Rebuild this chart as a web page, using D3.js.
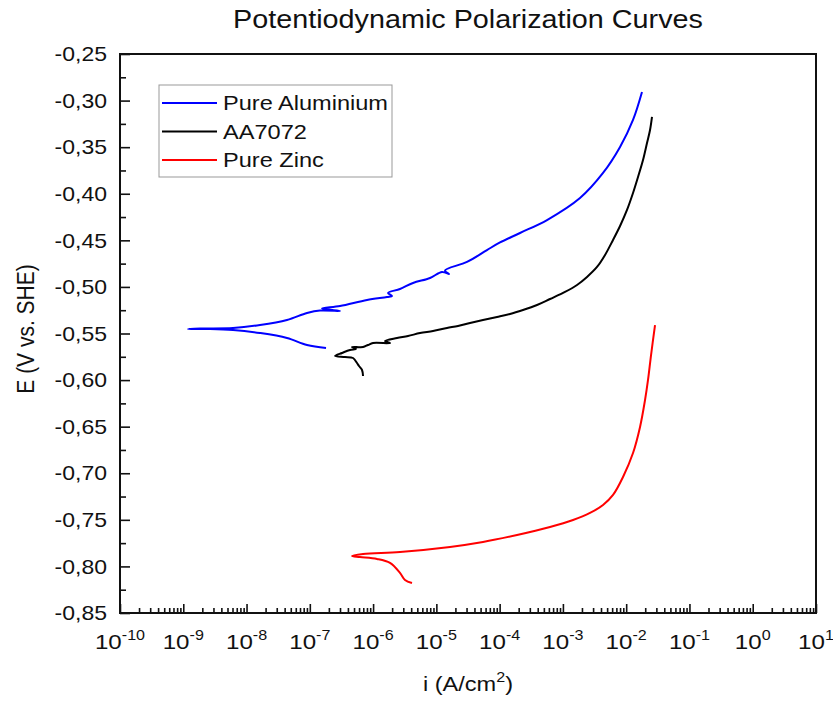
<!DOCTYPE html>
<html>
<head>
<meta charset="utf-8">
<script src="https://cdn.jsdelivr.net/npm/d3@7"></script>
<style>
  body { margin: 0; background: #fff; }
  text { font-family: "Liberation Sans", Arial, sans-serif; fill: #111; }
</style>
</head>
<body>
<script>
// values: log10(i) in A/cm2 and E in V vs. SHE
var seriesNames = ["Pure Aluminium", "AA7072", "Pure Zinc"];
var seriesColors = ["#0000ff", "#000000", "#ff0000"];

var alLogI = [-6.744, -7.044, -7.361, -7.787, -8.214, -8.578, -8.925, -8.736, -8.214, -7.787, -7.361, -7.044,
  -6.839, -6.523, -6.807, -6.523, -6.096, -5.78, -5.701, -5.764, -5.575, -5.369, -5.1, -4.911, -4.8, -4.863,
  -4.516, -4.2, -3.994, -3.678, -3.251, -2.73, -2.366, -2.097, -1.892, -1.75];
var alE = [-0.5656, -0.5623, -0.5548, -0.5495, -0.5462, -0.5452, -0.5452, -0.5446, -0.5441, -0.5409, -0.5355, -0.528,
  -0.5253, -0.5258, -0.5232, -0.5205, -0.514, -0.5108, -0.5097, -0.5065, -0.5022, -0.4958, -0.4904, -0.484, -0.4861, -0.4824,
  -0.4732, -0.4604, -0.4523, -0.4421, -0.4282, -0.4046, -0.3777, -0.3498, -0.3208, -0.2908];

var aaLogI = [-6.159, -6.175, -6.223, -6.254, -6.317, -6.444, -6.602, -6.491, -6.365, -6.27, -6.333, -6.159, -6.08,
  -6.001, -5.733, -5.812, -5.622, -5.448, -5.258, -5.053, -4.832, -4.658, -4.468, -4.263, -4.041, -3.836, -3.631,
  -3.409, -3.204, -2.967, -2.777, -2.619, -2.461, -2.334, -2.208, -2.097, -1.987, -1.892, -1.813, -1.734, -1.671,
  -1.623, -1.592];
var aaE = [-0.5956, -0.5892, -0.5849, -0.5817, -0.5763, -0.5752, -0.5741, -0.5709, -0.5677, -0.5666, -0.5645, -0.5645, -0.5623,
  -0.5602, -0.5602, -0.558, -0.5548, -0.5527, -0.5495, -0.5473, -0.5441, -0.5419, -0.5387, -0.5355, -0.5323, -0.5291, -0.5248,
  -0.5194, -0.513, -0.5054, -0.4979, -0.4893, -0.4786, -0.4657, -0.4496, -0.4346, -0.4174, -0.3992, -0.382, -0.3638, -0.3455,
  -0.3316, -0.3176];

var znLogI = [-5.385, -5.496, -5.575, -5.733, -5.938, -6.207, -6.333, -6.159, -5.575, -4.784, -4.263, -3.725, -3.204,
  -2.84, -2.572, -2.366, -2.208, -2.05, -1.892, -1.781, -1.702, -1.655, -1.607, -1.544];
var znE = [-0.8178, -0.8146, -0.807, -0.7963, -0.792, -0.7899, -0.7888, -0.7867, -0.7845, -0.7791, -0.7738, -0.7663, -0.7577,
  -0.7502, -0.7426, -0.7341, -0.7233, -0.704, -0.6783, -0.6503, -0.6214, -0.5999, -0.5731, -0.5409];

var decadeExps = [-10, -9, -8, -7, -6, -5, -4, -3, -2, -1, 0, 1];
var eTicks = [-0.85, -0.80, -0.75, -0.70, -0.65, -0.60, -0.55, -0.50, -0.45, -0.40, -0.35, -0.30, -0.25];

var W = 833, H = 702;
var plotL = 120, plotR = 816, plotT = 54, plotB = 613;
var sx = 1.15; // the picture's text is stretched sideways

var svg = d3.select("body").append("svg")
    .attr("width", W)
    .attr("height", H);

var x = d3.scaleLog().domain([1e-10, 10]).range([plotL, plotR]);
var y = d3.scaleLinear().domain([-0.85, -0.25]).range([plotB, plotT]);

function stretchText(g, px, py, rot) {
  return g.append("g")
    .attr("transform", "translate(" + px + "," + py + ") scale(" + sx + ",1)" + (rot ? " rotate(" + rot + ")" : ""))
    .append("text");
}

// title
stretchText(svg, 468, 28).attr("text-anchor", "middle").style("font-size", "25px")
    .text("Potentiodynamic Polarization Curves");

// minor ticks
var minorX = [];
decadeExps.slice(0, -1).forEach(function (k) {
  for (var m = 2; m <= 9; m++) minorX.push(m * Math.pow(10, k));
});
var minorY = eTicks.slice(0, -1).map(function (v) { return v + 0.025; });

var xMajor = decadeExps.map(function (k) { return Math.pow(10, k); });

svg.append("g")
    .attr("transform", "translate(0," + plotB + ")")
    .call(d3.axisBottom(x).tickValues(xMajor).tickSizeInner(-9).tickSizeOuter(0).tickFormat(""))
    .call(function (g) { g.select(".domain").remove(); });
svg.append("g")
    .attr("transform", "translate(0," + plotB + ")")
    .call(d3.axisBottom(x).tickValues(minorX).tickSizeInner(-5).tickSizeOuter(0).tickFormat(""))
    .call(function (g) { g.select(".domain").remove(); });
svg.append("g")
    .attr("transform", "translate(" + plotL + ",0)")
    .call(d3.axisLeft(y).tickValues(eTicks).tickSizeInner(-10).tickSizeOuter(0).tickFormat(""))
    .call(function (g) { g.select(".domain").remove(); });
svg.append("g")
    .attr("transform", "translate(" + plotL + ",0)")
    .call(d3.axisLeft(y).tickValues(minorY).tickSizeInner(-6).tickSizeOuter(0).tickFormat(""))
    .call(function (g) { g.select(".domain").remove(); });
svg.selectAll(".tick line").attr("stroke", "#111").attr("stroke-width", 1.6);

// frame
svg.append("rect")
    .attr("x", plotL).attr("y", plotT)
    .attr("width", plotR - plotL).attr("height", plotB - plotT)
    .attr("fill", "none").attr("stroke", "#111").attr("stroke-width", 2);

// y tick labels, comma decimals and a plain hyphen for the minus
var fmt = d3.format(".2f");
eTicks.forEach(function (v) {
  stretchText(svg, plotL - 13, y(v)).attr("text-anchor", "end").attr("dy", "0.36em")
      .style("font-size", "20px").text(fmt(v).replace("\u2212", "-").replace(".", ","));
});

// x tick labels
decadeExps.forEach(function (k) {
  var t = stretchText(svg, x(Math.pow(10, k)), 649).attr("text-anchor", "middle").style("font-size", "21px");
  t.append("tspan").text("10");
  t.append("tspan").attr("dy", "-9").style("font-size", "14px").text(k);
});

// axis titles
var xt = stretchText(svg, 468, 691).attr("text-anchor", "middle").style("font-size", "20.5px");
xt.append("tspan").text("i (A/cm");
xt.append("tspan").attr("dy", "-9").style("font-size", "14px").text("2");
xt.append("tspan").attr("dy", "9").text(")");

stretchText(svg, 34, 329, -90).attr("text-anchor", "middle").style("font-size", "21px")
    .text("E (V vs. SHE)");

// curves
var line = d3.line()
    .curve(d3.curveCatmullRom.alpha(0.5))
    .x(function (d) { return x(d.i); })
    .y(function (d) { return y(d.e); });

function toPoints(logI, E) {
  return logI.map(function (l, j) { return { i: Math.pow(10, l), e: E[j] }; });
}

var series = [toPoints(alLogI, alE), toPoints(aaLogI, aaE), toPoints(znLogI, znE)];

svg.append("g").selectAll("path")
    .data(series)
    .enter().append("path")
    .attr("d", line)
    .attr("fill", "none")
    .attr("stroke", function (d, j) { return seriesColors[j]; })
    .attr("stroke-width", 2)
    .attr("stroke-linejoin", "round");

// legend
var lg = svg.append("g");
lg.append("rect")
    .attr("x", 159).attr("y", 85).attr("width", 233).attr("height", 92)
    .attr("fill", "#fff").attr("stroke", "#999").attr("stroke-width", 1);
seriesNames.forEach(function (name, j) {
  var ly = 103 + j * 28.5;
  lg.append("line")
      .attr("x1", 162).attr("x2", 217).attr("y1", ly).attr("y2", ly)
      .attr("stroke", seriesColors[j]).attr("stroke-width", 2);
  stretchText(lg, 223, ly).attr("dy", "0.36em").style("font-size", "20.5px").text(name);
});
</script>
</body>
</html>
